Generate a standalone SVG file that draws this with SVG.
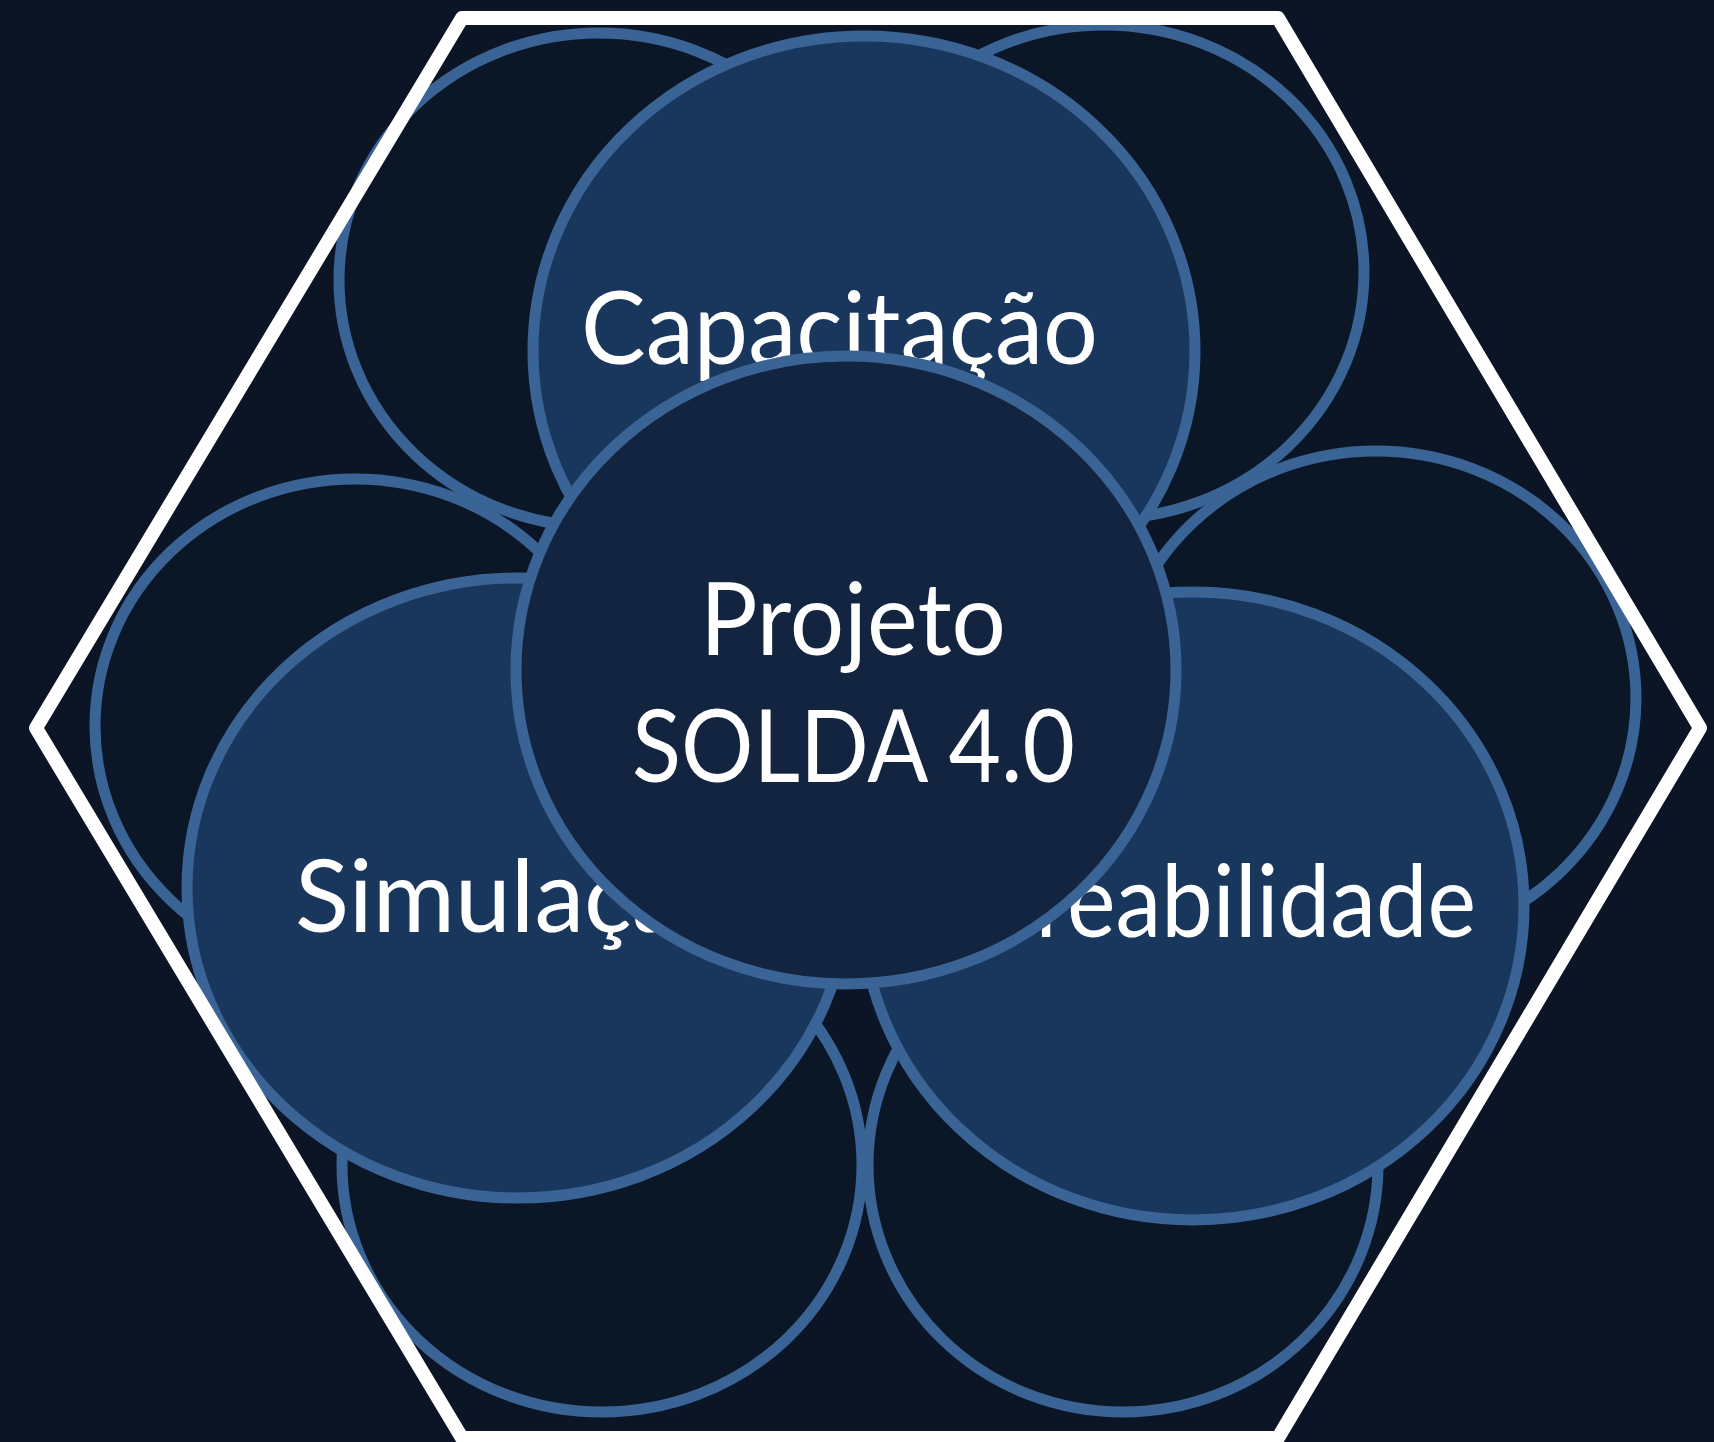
<svg xmlns="http://www.w3.org/2000/svg" width="1714" height="1442" viewBox="0 0 1714 1442">
<style>
.dark{fill:#0b1626;stroke:#3a6496;stroke-width:11}
.mid{fill:#19365c;stroke:#3a6496;stroke-width:11}
.core{fill:#12243f;stroke:#3a6496;stroke-width:11}
.lbl{font-family:Lato,"Open Sans","Liberation Sans",sans-serif;font-size:100px;fill:#ffffff}
.hex{fill:none;stroke:#ffffff;stroke-width:14;stroke-linejoin:round}
</style>
<rect width="1714" height="1442" fill="#0b1526"/>
<g id="ring-top-left"><ellipse class="dark" cx="599" cy="280" rx="260" ry="247"/></g>
<g id="ring-top-right"><ellipse class="dark" cx="1104" cy="272" rx="260" ry="247"/></g>
<g id="ring-left"><ellipse class="dark" cx="355" cy="726" rx="260" ry="247"/></g>
<g id="ring-right"><ellipse class="dark" cx="1376" cy="698" rx="260" ry="247"/></g>
<g id="ring-bottom-left"><ellipse class="dark" cx="602" cy="1165" rx="260" ry="247"/></g>
<g id="ring-bottom-right"><ellipse class="dark" cx="1123" cy="1165" rx="255" ry="247"/></g>
<g id="capacitacao"><ellipse class="mid" cx="864" cy="351" rx="331" ry="315"/><text class="lbl" x="581" y="364" textLength="517" lengthAdjust="spacingAndGlyphs">Capacitação</text></g>
<g id="simulacao"><ellipse class="mid" cx="518" cy="888" rx="331" ry="310"/><text class="lbl" x="295" y="932">Simulação</text></g>
<g id="rastreabilidade"><ellipse class="mid" cx="1193" cy="906" rx="331" ry="314"/><text class="lbl" x="1476" y="937" text-anchor="end" transform="translate(1476,0) scale(0.92,1) translate(-1476,0)">Rastreabilidade</text></g>
<g id="projeto"><ellipse class="core" cx="846" cy="670" rx="330" ry="314"/><text class="lbl" x="700" y="655" textLength="306" lengthAdjust="spacingAndGlyphs">Projeto</text><text class="lbl" x="632" y="782" textLength="443" lengthAdjust="spacingAndGlyphs">SOLDA 4.0</text></g>
<g id="hexagon"><polygon class="hex" points="462,18 1278,18 1700,728 1278,1438 462,1438 36,728"/></g>
</svg>
